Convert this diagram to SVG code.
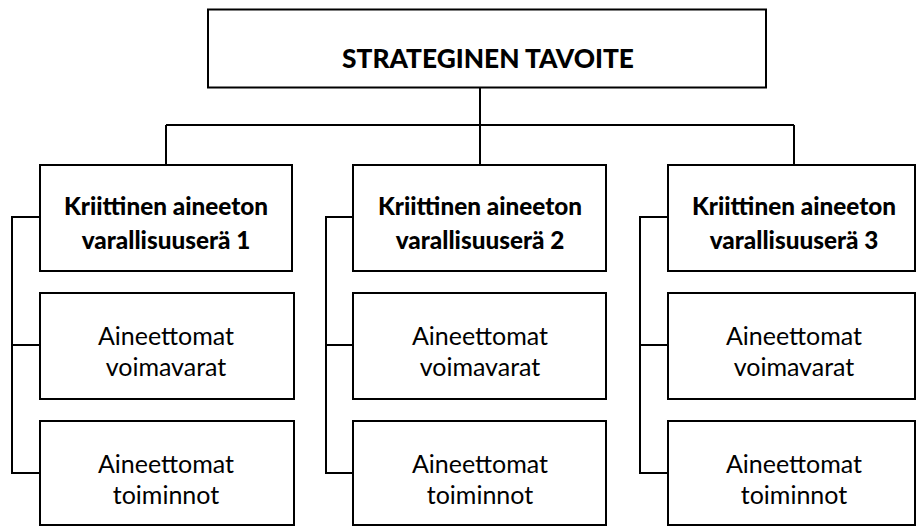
<svg xmlns="http://www.w3.org/2000/svg" width="916" height="527" viewBox="0 0 916 527">
  <style>
    .box { fill: #ffffff; stroke: #000000; stroke-width: 2; }
    .wire { fill: none; stroke: #000000; stroke-width: 2; }
    .title { font-family: Lato, "Open Sans", sans-serif; font-weight: 900; font-size: 26.3px; text-anchor: middle; fill: #000; }
    .head { font-family: Lato, "Open Sans", sans-serif; font-weight: 900; font-size: 24.3px; text-anchor: middle; fill: #000; }
    .item { font-family: Lato, "Open Sans", sans-serif; font-size: 25px; text-anchor: middle; fill: #000; }
  </style>
  <rect width="916" height="527" fill="#ffffff"/>

  <g id="connectors">
    <path class="wire" d="M480 87 V125 M166 125 H794 M166 125 V165 M480 125 V165 M794 125 V165"/>
    <path class="wire" d="M40 217 H12 V473 H40 M12 345 H40"/>
    <path class="wire" d="M353 217 H326 V473 H353 M326 345 H353"/>
    <path class="wire" d="M668 217 H640 V473 H668 M640 345 H668"/>
  </g>

  <g id="goal">
    <rect class="box" x="208" y="9.5" width="558" height="78"/>
    <text class="title" x="488" y="68">STRATEGINEN TAVOITE</text>
  </g>

  <g id="asset1">
    <rect class="box" x="40" y="165" width="252" height="106"/>
    <text class="head" x="166" y="215">Kriittinen aineeton</text>
    <text class="head" x="166" y="249">varallisuuserä 1</text>
  </g>
  <g id="resources1">
    <rect class="box" x="40" y="293" width="254" height="106"/>
    <text class="item" x="166" y="345">Aineettomat</text>
    <text class="item" x="166" y="376">voimavarat</text>
  </g>
  <g id="functions1">
    <rect class="box" x="40" y="421" width="254" height="104"/>
    <text class="item" x="166" y="473">Aineettomat</text>
    <text class="item" x="166" y="504">toiminnot</text>
  </g>

  <g id="asset2">
    <rect class="box" x="353" y="165" width="253" height="106"/>
    <text class="head" x="480" y="215">Kriittinen aineeton</text>
    <text class="head" x="480" y="249">varallisuuserä 2</text>
  </g>
  <g id="resources2">
    <rect class="box" x="353" y="293" width="253" height="106"/>
    <text class="item" x="480" y="345">Aineettomat</text>
    <text class="item" x="480" y="376">voimavarat</text>
  </g>
  <g id="functions2">
    <rect class="box" x="353" y="421" width="253" height="104"/>
    <text class="item" x="480" y="473">Aineettomat</text>
    <text class="item" x="480" y="504">toiminnot</text>
  </g>

  <g id="asset3">
    <rect class="box" x="668" y="165" width="247" height="106"/>
    <text class="head" x="794" y="215">Kriittinen aineeton</text>
    <text class="head" x="794" y="249">varallisuuserä 3</text>
  </g>
  <g id="resources3">
    <rect class="box" x="668" y="293" width="247" height="106"/>
    <text class="item" x="794" y="345">Aineettomat</text>
    <text class="item" x="794" y="376">voimavarat</text>
  </g>
  <g id="functions3">
    <rect class="box" x="668" y="421" width="247" height="104"/>
    <text class="item" x="794" y="473">Aineettomat</text>
    <text class="item" x="794" y="504">toiminnot</text>
  </g>
</svg>
